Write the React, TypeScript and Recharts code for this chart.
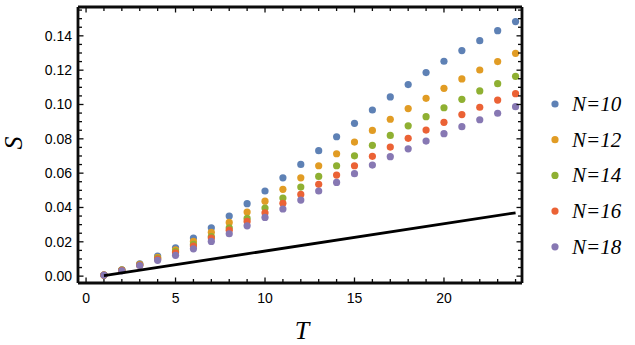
import React from "react";
import {
    ScatterChart,
    Scatter,
    XAxis,
    YAxis,
    Legend,
} from "recharts";

const tValues = [1, 2, 3, 4, 5, 6, 7, 8, 9, 10, 11, 12, 13, 14, 15, 16, 17, 18, 19, 20, 21, 22, 23, 24];

const sN10 = [0.0006, 0.0037, 0.0072, 0.0117, 0.0165, 0.0222, 0.0282, 0.035, 0.0422, 0.0496, 0.0573, 0.0651,
    0.0731, 0.0812, 0.089, 0.0968, 0.1044, 0.1116, 0.1186, 0.1252, 0.1314, 0.1372, 0.143, 0.1483];
const sN12 = [0.0006, 0.0035, 0.0068, 0.0109, 0.0153, 0.0202, 0.0255, 0.0313, 0.0373, 0.0437, 0.0506, 0.0573,
    0.0643, 0.0713, 0.0781, 0.0849, 0.0914, 0.0976, 0.1036, 0.1094, 0.1149, 0.1201, 0.125, 0.1298];
const sN14 = [0.0006, 0.0035, 0.0066, 0.0103, 0.0144, 0.0185, 0.0231, 0.0282, 0.0336, 0.0397, 0.0455, 0.0519,
    0.0581, 0.0643, 0.0701, 0.0762, 0.082, 0.0876, 0.0929, 0.0981, 0.103, 0.1079, 0.1121, 0.1164];
const sN16 = [0.0006, 0.0033, 0.0064, 0.0099, 0.0136, 0.0175, 0.0222, 0.0268, 0.0319, 0.0369, 0.0424, 0.0476,
    0.0535, 0.0589, 0.0643, 0.0698, 0.0752, 0.0803, 0.0851, 0.0896, 0.0941, 0.0984, 0.1026, 0.1063];
const sN18 = [0.0006, 0.0031, 0.0062, 0.0092, 0.0121, 0.0159, 0.0202, 0.0247, 0.0293, 0.0342, 0.0391, 0.0443,
    0.0496, 0.0546, 0.0597, 0.0647, 0.0696, 0.0742, 0.0787, 0.083, 0.0871, 0.0911, 0.0949, 0.0987];

// straight reference line, two end points
const lineT = [1, 24];
const lineS = [0.0003, 0.0369];

const seriesNames = ["N=10", "N=12", "N=14", "N=16", "N=18"];
const seriesValues = [sN10, sN12, sN14, sN16, sN18];
const seriesColors = ["#5E81B5", "#E19C24", "#8FB032", "#EB6235", "#8778B3"];

const xTicks = [0, ...tValues];
const xMajor = [0, 5, 10, 15, 20];
const yTicks = Array.from({ length: 32 }, (_, i) => +(i * 0.005).toFixed(3));
const yMajor = [0, 0.02, 0.04, 0.06, 0.08, 0.1, 0.12, 0.14];

const X_DOMAIN: [number, number] = [-0.45, 24.36];
const Y_DOMAIN: [number, number] = [-0.004, 0.1568];

const sansFont = "'Liberation Sans', Arial, sans-serif";
const serifFont = "'Liberation Serif', 'Times New Roman', serif";
const INK = "#0b0b0b";

const isMajor = (list: number[], v: number) => list.some((m) => Math.abs(m - v) < 1e-9);

function BottomTick(props: any) {
    const { x, y, payload } = props;
    const major = isMajor(xMajor, payload.value);
    return (
        <g>
            <line x1={x} x2={x} y1={y} y2={y - (major ? 5.5 : 4)} stroke={INK} strokeWidth={1.3} />
            {major && (
                <text x={x} y={y + 20} textAnchor="middle" fontFamily={sansFont} fontSize={14} fill="#000">
                    {payload.value}
                </text>
            )}
        </g>
    );
}

function TopTick(props: any) {
    const { x, y, payload } = props;
    const major = isMajor(xMajor, payload.value);
    return <line x1={x} x2={x} y1={y} y2={y + (major ? 5.5 : 4)} stroke={INK} strokeWidth={1.3} />;
}

function LeftTick(props: any) {
    const { x, y, payload } = props;
    const major = isMajor(yMajor, payload.value);
    return (
        <g>
            <line x1={x} x2={x + (major ? 5.5 : 4)} y1={y} y2={y} stroke={INK} strokeWidth={1.3} />
            {major && (
                <text x={x - 6} y={y + 5} textAnchor="end" fontFamily={sansFont} fontSize={14} fill="#000">
                    {payload.value.toFixed(2)}
                </text>
            )}
        </g>
    );
}

function RightTick(props: any) {
    const { x, y, payload } = props;
    const major = isMajor(yMajor, payload.value);
    return <line x1={x} x2={x - (major ? 5.5 : 4)} y1={y} y2={y} stroke={INK} strokeWidth={1.3} />;
}

function Dot(props: any) {
    return <circle cx={props.cx} cy={props.cy} r={3.6} fill={props.fill} />;
}

function LegendBox(props: any) {
    const items = (props.payload || []).filter((p: any) => seriesNames.includes(p.value));
    return (
        <svg width={90} height={190}>
            {items.map((item: any, i: number) => (
                <g key={item.value} transform={`translate(0, ${18 + i * 35.7})`}>
                    <circle cx={8} cy={0} r={3.6} fill={item.color} />
                    <text x={25} y={7} fontFamily={serifFont} fontStyle="italic" fontSize={21} fill="#000">
                        {item.value}
                    </text>
                </g>
            ))}
        </svg>
    );
}

const xTitle = () => (
    <text x={302} y={339} textAnchor="middle" fontFamily={serifFont} fontStyle="italic" fontSize={26} fill="#000">
        T
    </text>
);

const yTitle = () => (
    <text
        x={13}
        y={143}
        transform="rotate(-90 13 143)"
        textAnchor="middle"
        dominantBaseline="central"
        fontFamily={serifFont}
        fontStyle="italic"
        fontSize={26}
        fill="#000"
    >
        S
    </text>
);

export default function App() {
    const lineData = lineT.map((t, i) => ({ t, s: lineS[i] }));
    return (
        <div style={{ position: "absolute", left: 0, top: 0, background: "#fff" }}>
            <ScatterChart width={635} height={345} margin={{ top: 6, right: 112, bottom: 0, left: 0 }}>
                <XAxis
                    type="number"
                    dataKey="t"
                    domain={X_DOMAIN}
                    ticks={xTicks}
                    interval={0}
                    allowDataOverflow
                    height={62}
                    axisLine={{ stroke: INK, strokeWidth: 2.8 }}
                    tickLine={false}
                    tickSize={0}
                    tickMargin={0}
                    tick={<BottomTick />}
                    label={{ value: "T", content: xTitle }}
                />
                <XAxis
                    xAxisId="top"
                    orientation="top"
                    type="number"
                    dataKey="t"
                    domain={X_DOMAIN}
                    ticks={xTicks}
                    interval={0}
                    allowDataOverflow
                    height={1}
                    axisLine={{ stroke: INK, strokeWidth: 2.8 }}
                    tickLine={false}
                    tickSize={0}
                    tickMargin={0}
                    tick={<TopTick />}
                />
                <YAxis
                    type="number"
                    dataKey="s"
                    domain={Y_DOMAIN}
                    ticks={yTicks}
                    interval={0}
                    allowDataOverflow
                    width={78}
                    axisLine={{ stroke: INK, strokeWidth: 2.8 }}
                    tickLine={false}
                    tickSize={0}
                    tickMargin={0}
                    tick={<LeftTick />}
                    label={{ value: "S", content: yTitle }}
                />
                <YAxis
                    yAxisId="right"
                    orientation="right"
                    type="number"
                    dataKey="s"
                    domain={Y_DOMAIN}
                    ticks={yTicks}
                    interval={0}
                    allowDataOverflow
                    width={1}
                    axisLine={{ stroke: INK, strokeWidth: 2.8 }}
                    tickLine={false}
                    tickSize={0}
                    tickMargin={0}
                    tick={<RightTick />}
                />
                {seriesNames.map((name, k) => (
                    <Scatter
                        key={name}
                        name={name}
                        data={tValues.map((t, i) => ({ t, s: seriesValues[k][i] }))}
                        fill={seriesColors[k]}
                        shape={<Dot />}
                        isAnimationActive={false}
                    />
                ))}
                <Scatter
                    name="line"
                    data={lineData}
                    line={{ stroke: "#000", strokeWidth: 2.8 }}
                    shape={() => <g />}
                    legendType="none"
                    isAnimationActive={false}
                />
                <Legend
                    align="center"
                    verticalAlign="middle"
                    content={<LegendBox />}
                    wrapperStyle={{ position: "absolute", left: 547, top: 86, width: 90, height: 190 }}
                />
            </ScatterChart>
        </div>
    );
}
